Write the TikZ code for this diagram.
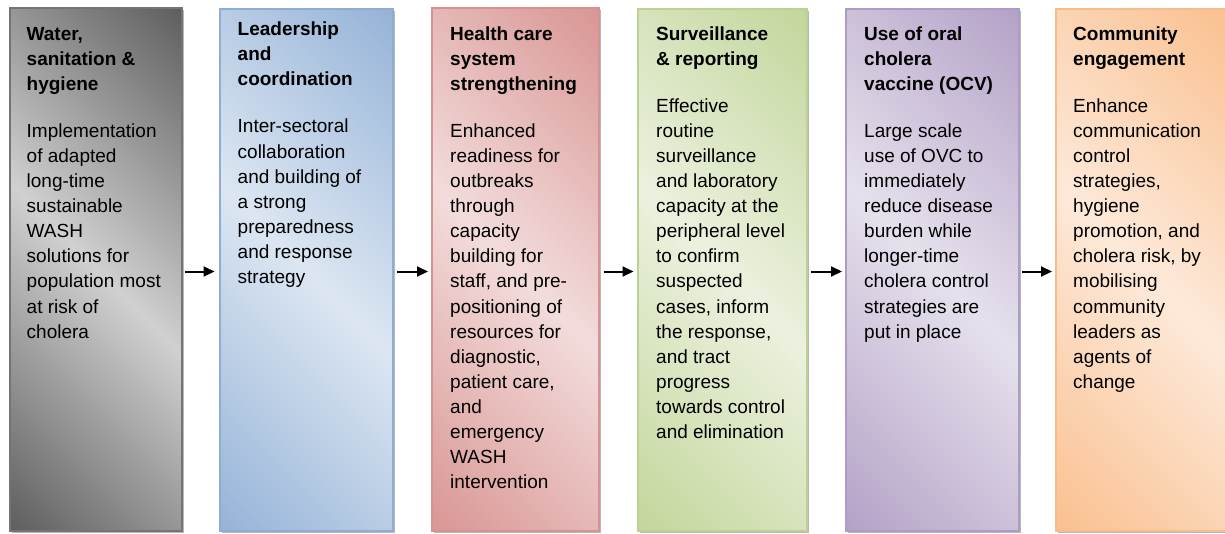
\documentclass[tikz,border=0pt]{standalone}
\usepackage{fontspec}
\setmainfont{Liberation Sans}
\usetikzlibrary{shadows,arrows.meta}
\definecolor{gD}{HTML}{5E5E5E}\definecolor{gL}{HTML}{D0D0D0}\definecolor{gB}{HTML}{747474}
\definecolor{bD}{HTML}{95B3D7}\definecolor{bL}{HTML}{DCE6F2}\definecolor{bB}{HTML}{8FACD6}
\definecolor{rD}{HTML}{D99694}\definecolor{rL}{HTML}{F2DCDB}\definecolor{rB}{HTML}{D69290}
\definecolor{vD}{HTML}{C3D69B}\definecolor{vL}{HTML}{EBF1DE}\definecolor{vB}{HTML}{BDD193}
\definecolor{pD}{HTML}{B3A2C7}\definecolor{pL}{HTML}{E6E0EC}\definecolor{pB}{HTML}{AD9CC3}
\definecolor{oD}{HTML}{FAC090}\definecolor{oL}{HTML}{FDE9D9}\definecolor{oB}{HTML}{F8BC8A}
\newcommand\mkshade[3]{\pgfdeclarehorizontalshading{#1}{100bp}{color(0bp)=(#2); color(14.6bp)=(#2); color(50bp)=(#3); color(85.4bp)=(#2); color(100bp)=(#2)}}
\mkshade{shG}{gD}{gL}
\mkshade{shB}{bD}{bL}
\mkshade{shR}{rD}{rL}
\mkshade{shV}{vD}{vL}
\mkshade{shP}{pD}{pL}
\mkshade{shO}{oD}{oL}
\tikzset{
  box/.style 2 args={shading=#1, shading angle=45, draw=#2, line width=1.3pt,
    inner sep=0pt, outer sep=0pt, anchor=north west,
    drop shadow={shadow xshift=1.6pt, shadow yshift=-1.6pt, opacity=0.4, fill=black!70}},
  txt/.style={anchor=north west, inner sep=0pt, align=left, text=black,
    font=\fontsize{19}{25.1}\selectfont},
  arr/.style={line width=2pt, -{Triangle[length=11pt,width=10pt]}}
}
\begin{document}
\begin{tikzpicture}[x=1pt,y=-1pt]
\useasboundingbox (0,0) rectangle (1225,533);
\node[box={shG}{gB}, minimum width=172, minimum height=523] (b1) at (10,8) {};
\node[box={shB}{bB}, minimum width=173, minimum height=522] (b2) at (220,9) {};
\node[box={shR}{rB}, minimum width=167, minimum height=523] (b3) at (432,8) {};
\node[box={shV}{vB}, minimum width=169, minimum height=522] (b4) at (638,9) {};
\node[box={shP}{pB}, minimum width=173, minimum height=522] (b5) at (846,9) {};
\node[box={shO}{oB}, minimum width=172, minimum height=522] (b6) at (1056,9) {};

\node[txt] (t1) at (26.5,22.4) {\strut\textbf{Water,}\\ \textbf{sanitation \&}\\ \textbf{hygiene}\\[21.9pt]
Implementation\\ of adapted\\ long-time\\ sustainable\\ WASH\\ solutions for\\ population most\\ at risk of\\ cholera};
\node[txt] (t2) at (237.5,18) {\strut\textbf{Leadership}\\ \textbf{and}\\ \textbf{coordination}\\[21.9pt]
Inter-sectoral\\ collaboration\\ and building of\\ a strong\\ preparedness\\ and response\\ strategy};
\node[txt] (t3) at (450,22.4) {\strut\textbf{Health care}\\ \textbf{system}\\ \textbf{strengthening}\\[21.9pt]
Enhanced\\ readiness for\\ outbreaks\\ through\\ capacity\\ building for\\ staff, and pre-\\ positioning of\\ resources for\\ diagnostic,\\ patient care,\\ and\\ emergency\\ WASH\\ intervention};
\node[txt] (t4) at (656,22.4) {\strut\textbf{Surveillance}\\ \textbf{\& reporting}\\[21.9pt]
Effective\\ routine\\ surveillance\\ and laboratory\\ capacity at the\\ peripheral level\\ to confirm\\ suspected\\ cases, inform\\ the response,\\ and tract\\ progress\\ towards control\\ and elimination};
\node[txt] (t5) at (864,22.4) {\strut\textbf{Use of oral}\\ \textbf{cholera}\\ \textbf{vaccine (OCV)}\\[21.9pt]
Large scale\\ use of OVC to\\ immediately\\ reduce disease\\ burden while\\ longer-time\\ cholera control\\ strategies are\\ put in place};
\node[txt] (t6) at (1073,22.4) {\strut\textbf{Community}\\ \textbf{engagement}\\[21.9pt]
Enhance\\ communication\\ control\\ strategies,\\ hygiene\\ promotion, and\\ cholera risk, by\\ mobilising\\ community\\ leaders as\\ agents of\\ change};

\draw[arr] ([xshift=2.5pt,yshift=-2pt]b1.east) -- ([xshift=-5.5pt,yshift=-2pt]b1.east -| b2.west);
\draw[arr] ([xshift=4pt,yshift=-1.5pt]b2.east) -- ([xshift=-4pt,yshift=-1.5pt]b2.east -| b3.west);
\draw[arr] ([xshift=4.5pt,yshift=-2pt]b3.east) -- ([xshift=-4.5pt,yshift=-2pt]b3.east -| b4.west);
\draw[arr] ([xshift=4pt,yshift=-1.5pt]b4.east) -- ([xshift=-4pt,yshift=-1.5pt]b4.east -| b5.west);
\draw[arr] ([xshift=2.5pt,yshift=-1.5pt]b5.east) -- ([xshift=-4pt,yshift=-1.5pt]b5.east -| b6.west);
\end{tikzpicture}
\end{document}
